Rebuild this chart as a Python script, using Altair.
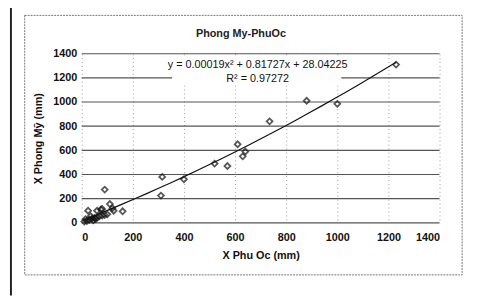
import altair as alt
import pandas as pd

# Data
x_phu_oc = [1230, 880, 1000, 735, 610, 640, 630, 570, 520, 400, 315, 310,
            90, 160, 125, 110, 120, 80, 60, 25, 75,
            10, 20, 30, 40, 50, 60, 70, 80, 90, 100, 15, 35, 55, 45]
y_phong_my = [1310, 1010, 985, 840, 650, 590, 550, 470, 490, 360, 380, 225,
              275, 95, 100, 155, 120, 115, 100, 100, 110,
              10, 15, 25, 35, 40, 45, 55, 60, 65, 70, 30, 55, 30, 20]

title_text = "Phong My-PhuOc"
x_title = "X Phu Oc (mm)"
y_title = "X Phong Mỹ (mm)"
eq_text = "y = 0.00019x² + 0.81727x + 28.04225"
r2_text = "R² = 0.97272"
ticks = [0, 200, 400, 600, 800, 1000, 1200, 1400]

df = pd.DataFrame({"x": x_phu_oc, "y": y_phong_my})
one = pd.DataFrame({"k": [0]})
FONT = "Liberation Sans"

xs = alt.Scale(domain=[0, 1400], nice=False)
ys = alt.Scale(domain=[0, 1400], nice=False)

xaxis = alt.Axis(values=ticks, title=x_title, grid=True, gridColor="#9a9a9a",
                 gridDash=[1, 3], domain=False, ticks=False, labelPadding=9,
                 titlePadding=7, format="d", labelOverlap=False)
yaxis = alt.Axis(values=ticks, title=y_title, grid=False, domain=False,
                 ticks=False, labelPadding=5, titlePadding=9, format="d",
                 labelOverlap=False)

base = alt.Chart(df)

points = base.mark_point(shape="diamond", filled=False, color="#111111",
                         strokeWidth=1.8, size=36).encode(
    x=alt.X("x:Q", scale=xs, axis=xaxis),
    y=alt.Y("y:Q", scale=ys, axis=yaxis),
)

hgrid = alt.Chart(pd.DataFrame({"t": ticks})).mark_rule(
    color="#555555", strokeWidth=1.2).encode(
    y=alt.Y("t:Q", scale=ys, axis=yaxis), x=alt.value(0), x2=alt.value(364))

trend = base.transform_regression("x", "y", method="poly", order=2).mark_line(
    color="#111111", strokeWidth=1.2).encode(
    x=alt.X("x:Q", scale=xs, axis=xaxis), y=alt.Y("y:Q", scale=ys, axis=yaxis))

eq_box = alt.Chart(one).mark_rect(color="white").encode(
    x=alt.value(92), x2=alt.value(264), y=alt.value(4), y2=alt.value(32))

eq = alt.Chart(one).mark_text(font=FONT, fontSize=11, color="#111111").encode(
    x=alt.value(179), y=alt.value(12), text=alt.value(eq_text))
r2 = alt.Chart(one).mark_text(font=FONT, fontSize=11, color="#111111").encode(
    x=alt.value(179), y=alt.value(26), text=alt.value(r2_text))

title = alt.Chart(one).mark_text(font=FONT, fontSize=11, fontWeight="bold",
                                 color="#222222").encode(
    x=alt.value(162), y=alt.value(-20), text=alt.value(title_text))

frame = alt.Chart(one).mark_rect(filled=False, stroke="#777777",
                                 strokeWidth=1, strokeDash=[2, 1]).encode(
    x=alt.value(-58), x2=alt.value(387), y=alt.value(-39), y2=alt.value(225))

left_bar = alt.Chart(one).mark_rule(color="#222222", strokeWidth=2).encode(
    x=alt.value(-72), y=alt.value(-52), y2=alt.value(246))

top_bar = alt.Chart(one).mark_rule(color="#444444", strokeWidth=1.5).encode(
    x=alt.value(-83), x2=alt.value(395), y=alt.value(-50))

chart = alt.layer(frame, left_bar, top_bar, hgrid, trend, points, eq_box, eq,
                  r2, title).properties(
    width=364, height=172,
    autosize=alt.AutoSizeParams(type="none"),
    padding={"left": 75, "top": 44, "right": 31, "bottom": 74},
).configure_view(stroke=None).configure_axis(
    labelFont=FONT, titleFont=FONT, labelFontSize=11, titleFontSize=11,
    labelColor="#111111", titleColor="#111111", titleFontWeight="bold",
    labelFontWeight="bold")

chart.save("out.html", embed_options={"renderer": "svg", "actions": False})
